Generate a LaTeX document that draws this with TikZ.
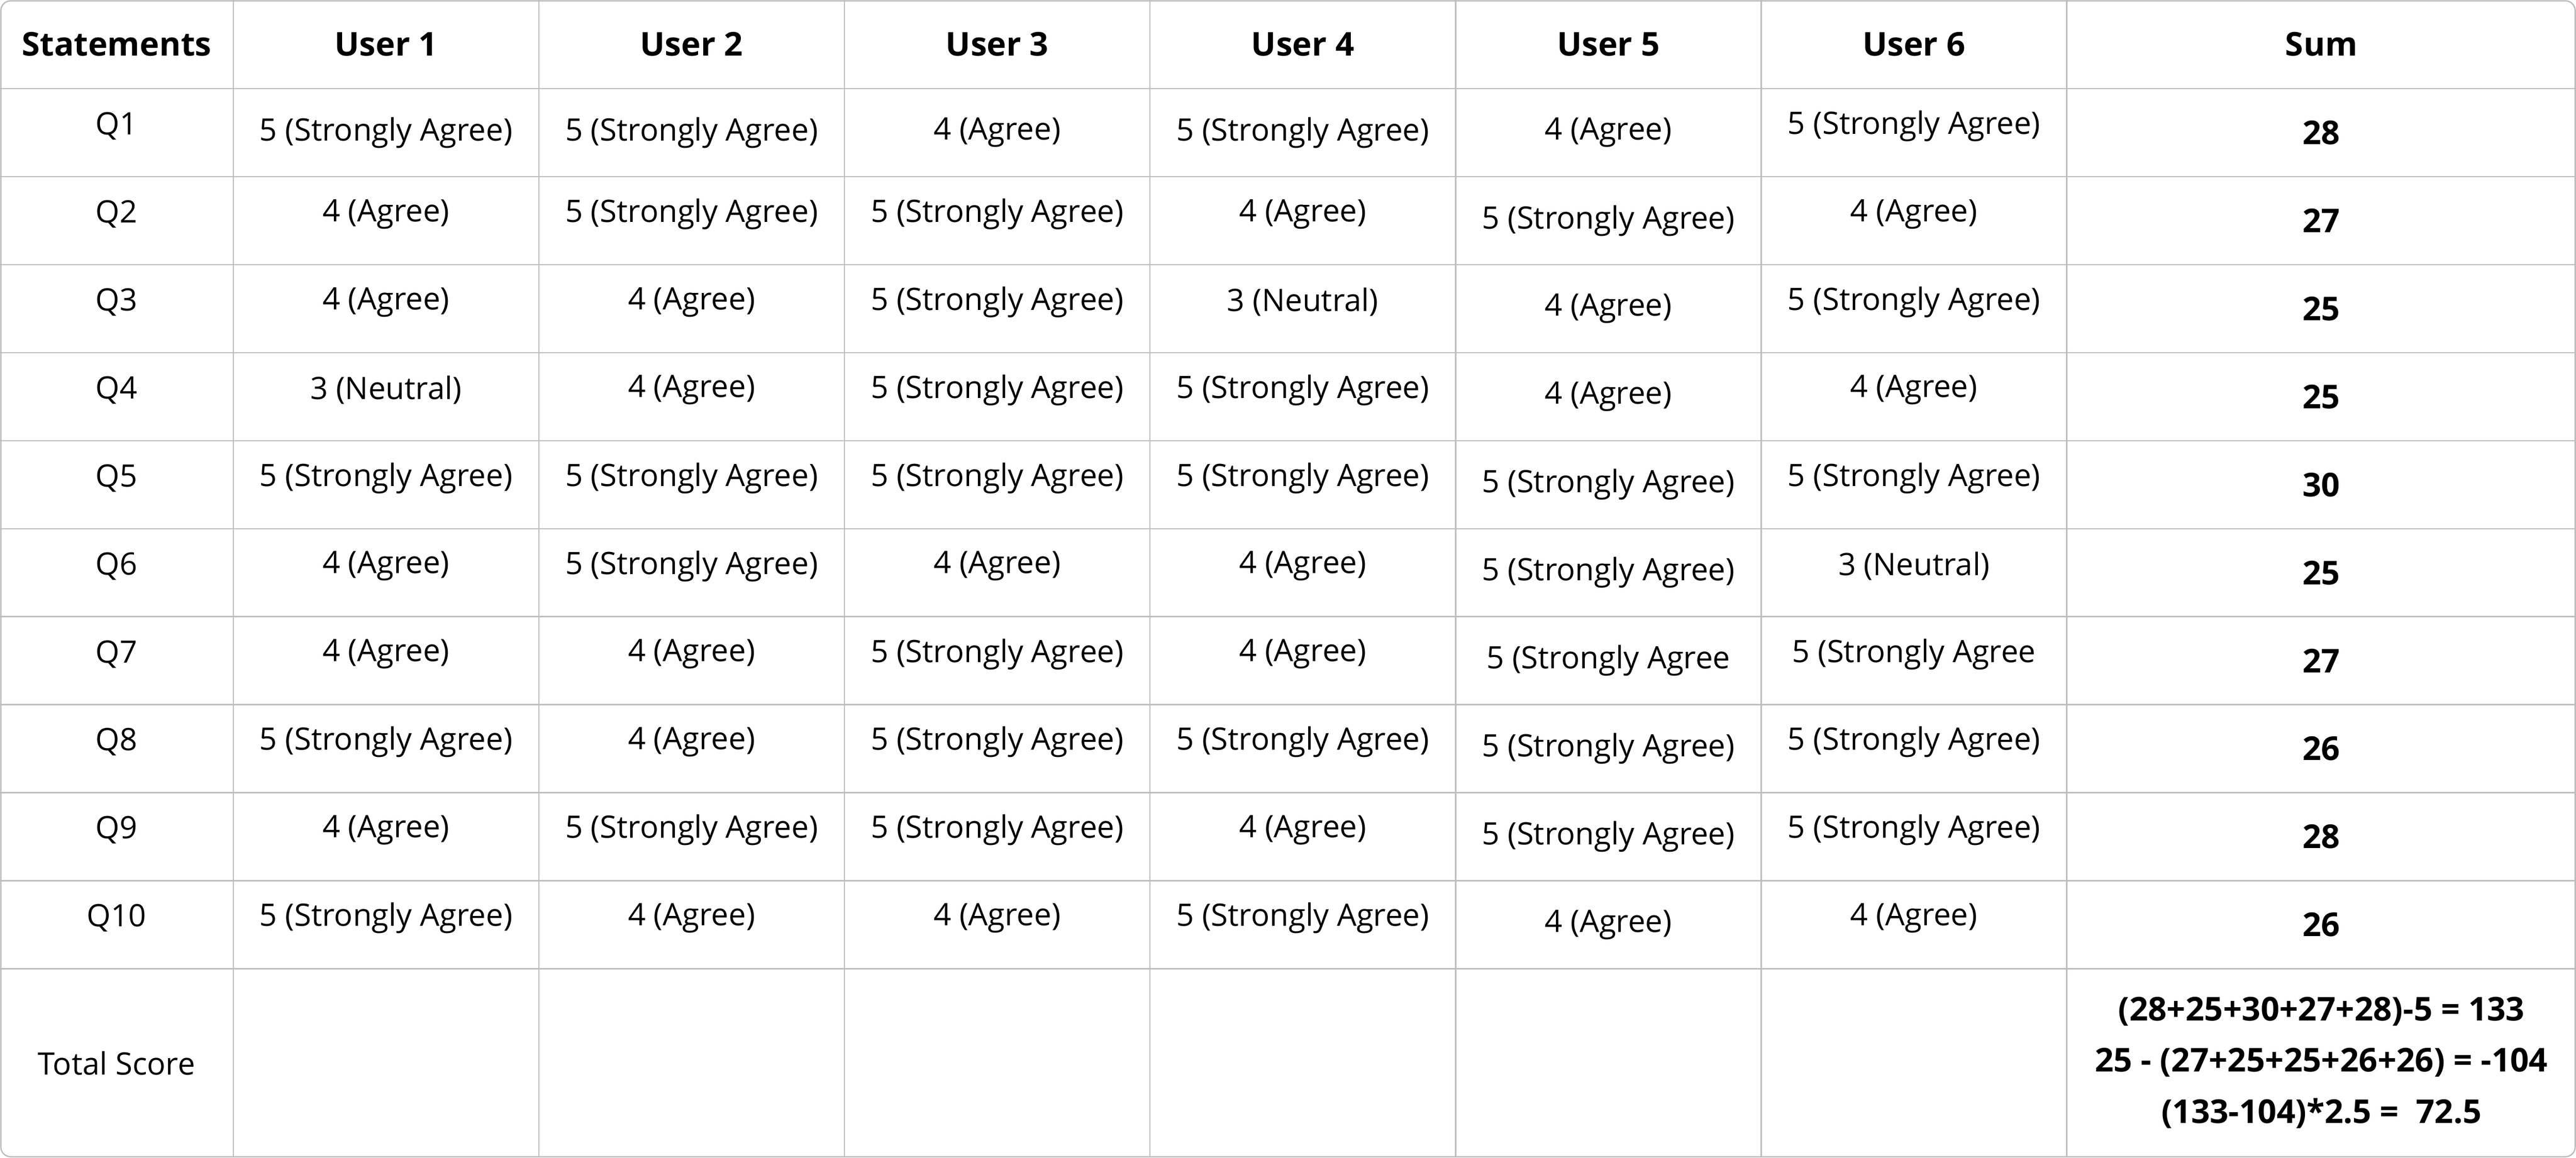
\documentclass[tikz,border=0pt]{standalone}
\usepackage{fontspec}
\setmainfont{Open Sans}
\usepackage{tikz}

\tikzset{
  grid/.style={draw=gridgray, line width=0.8pt},
  head/.style={font=\fontsize{20}{22}\selectfont\bfseries, inner sep=0pt},
  cell/.style={font=\fontsize{18.8}{21}\selectfont, inner sep=0pt},
  total/.style={font=\fontsize{20}{22}\selectfont\bfseries, inner sep=0pt},
}
\definecolor{gridgray}{HTML}{BDBDBD}

\begin{document}
\begin{tikzpicture}[x=1pt,y=-1pt]
  \useasboundingbox (0,0) rectangle (1568,705);
  \fill[white] (0,0) rectangle (1568,705);

  % grid
  \foreach \x in {142,328,514,700,886,1072,1258}
    \draw[grid] (\x,0) -- (\x,705);
  \foreach \y in {54,107.6,161.2,214.8,268.4,322,375.6,429.2,482.8,536.4,590}
    \draw[grid] (0,\y) -- (1568,\y);
  \draw[grid, rounded corners=6pt] (0.5,0.5) rectangle (1567.5,704.5);

  % header row
  \node[head] (hstat) at (71,27) {Statements};
  \node[head] (hu1) at (235,27) {User 1};
  \node[head] (hu2) at (421,27) {User 2};
  \node[head] (hu3) at (607,27) {User 3};
  \node[head] (hu4) at (793,27) {User 4};
  \node[head] (hu5) at (979,27) {User 5};
  \node[head] (hu6) at (1165,27) {User 6};
  \node[head] (hsum) at (1413,27) {Sum};

  % answers, one row per statement
  \foreach \i/\o/\a/\b/\c/\d/\e/\f/\s in {
      1/0/5 (Strongly Agree)/5 (Strongly Agree)/4 (Agree)/5 (Strongly Agree)/4 (Agree)/5 (Strongly Agree)/28,
      2/-4/4 (Agree)/5 (Strongly Agree)/5 (Strongly Agree)/4 (Agree)/5 (Strongly Agree)/4 (Agree)/27,
      3/-4/4 (Agree)/4 (Agree)/5 (Strongly Agree)/3 (Neutral)/4 (Agree)/5 (Strongly Agree)/25,
      4/-4/3 (Neutral)/4 (Agree)/5 (Strongly Agree)/5 (Strongly Agree)/4 (Agree)/4 (Agree)/25,
      5/-4/5 (Strongly Agree)/5 (Strongly Agree)/5 (Strongly Agree)/5 (Strongly Agree)/5 (Strongly Agree)/5 (Strongly Agree)/30,
      6/-4/4 (Agree)/5 (Strongly Agree)/4 (Agree)/4 (Agree)/5 (Strongly Agree)/3 (Neutral)/25,
      7/-4/4 (Agree)/4 (Agree)/5 (Strongly Agree)/4 (Agree)/5 (Strongly Agree/5 (Strongly Agree/27,
      8/-4/5 (Strongly Agree)/4 (Agree)/5 (Strongly Agree)/5 (Strongly Agree)/5 (Strongly Agree)/5 (Strongly Agree)/26,
      9/-4/4 (Agree)/5 (Strongly Agree)/5 (Strongly Agree)/4 (Agree)/5 (Strongly Agree)/5 (Strongly Agree)/28,
      10/-4/5 (Strongly Agree)/4 (Agree)/4 (Agree)/5 (Strongly Agree)/4 (Agree)/4 (Agree)/26}
  {
    \pgfmathsetmacro\y{80.8+53.6*(\i-1)}
    \node[cell] (q\i) at (71,\y-4) {Q\i};
    \node[cell] (q\i-u1) at (235,\y+\o) {\a};
    \node[cell] (q\i-u2) at (421,\y+\o) {\b};
    \node[cell] (q\i-u3) at (607,\y+\o) {\c};
    \node[cell] (q\i-u4) at (793,\y+\o) {\d};
    \node[cell] (q\i-u5) at (979,\y) {\e};
    \node[cell] (q\i-u6) at (1165,\y-4) {\f};
    \node[total] (q\i-sum) at (1413,\y) {\s};
  }

  % total score row
  \node[cell] (tscore) at (71,647.5) {Total Score};
  \node[total] (tline1) at (1413,616) {(28+25+30+27+28)-5 = 133};
  \node[total] (tline2) at (1413,647) {25 - (27+25+25+26+26) = -104};
  \node[total] (tline3) at (1413,678) {(133-104)*2.5 =\ \ 72.5};
\end{tikzpicture}
\end{document}
